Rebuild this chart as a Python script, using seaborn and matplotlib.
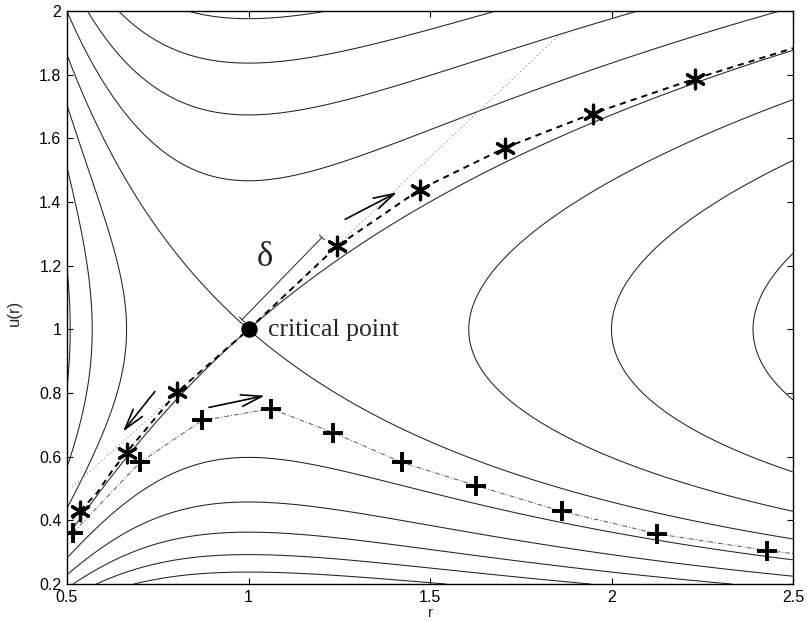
import numpy as np
import pandas as pd
import matplotlib
matplotlib.use('Agg')
from matplotlib import pyplot as plt
import seaborn as sns

# contour levels of the wind "energy" H(r,u) = u^2 - 2ln(u) - 4ln(r) - 4/r
# critical level is -3, neighbouring levels read off the figure
levels = [-4.544, -4.158, -3.772, -3.386, -3.0, -2.614, -2.228, -1.842, -1.456, -1.07, -0.684]

# numerical solutions
star_r = [0.536, 0.665, 0.803, 1.244, 1.472, 1.707, 1.949, 2.230]
star_u = [0.428, 0.613, 0.805, 1.261, 1.437, 1.569, 1.676, 1.786]

dash_r = [0.515, 0.536, 0.583, 0.627, 0.665, 0.803, 1.0, 1.244, 1.472, 1.707, 1.949, 2.230, 2.5]
dash_u = [0.405, 0.430, 0.487, 0.560, 0.615, 0.803, 1.0, 1.262, 1.440, 1.571, 1.679, 1.788, 1.884]

plus_r = [0.517, 0.701, 0.872, 1.062, 1.233, 1.423, 1.627, 1.864, 2.125, 2.428]
plus_u = [0.362, 0.582, 0.714, 0.751, 0.676, 0.582, 0.509, 0.428, 0.358, 0.305]
plusline_r = plus_r + [2.5]
plusline_u = plus_u + [0.296]

# tangent line through the critical point
tan_r = [0.515, 1.0, 1.855]
tan_u = [0.505, 1.0, 1.925]

crit_r = [1.0]
crit_u = [1.0]

# arrows: (tail r, tail u, head r, head u)
arrows = [(1.266, 1.346, 1.409, 1.431),
          (0.742, 0.805, 0.654, 0.679),
          (0.891, 0.755, 1.045, 0.792)]
delta_bar = (0.982, 1.031, 1.202, 1.289)

sns.set_style('ticks')
plt.rcParams['font.family'] = ['Liberation Sans', 'DejaVu Sans']

fig, ax = plt.subplots(figsize=(8.07, 6.22), dpi=100)
fig.subplots_adjust(left=0.083, right=0.983, bottom=0.061, top=0.982)

# background phase portrait
r = np.linspace(0.5, 2.5, 700)
u = np.linspace(0.2, 2.0, 700)
R, U = np.meshgrid(r, u)
H = U**2 - 2*np.log(U) - 4*np.log(R) - 4/R
ax.contour(R, U, H, levels=levels, colors='#222222', linewidths=0.75,
           linestyles='solid')

# solutions
sns.lineplot(x=tan_r, y=tan_u, ax=ax, color='#888888', linewidth=0.8,
             linestyle=(0, (1, 2.5)), sort=False, estimator=None)
sns.lineplot(x=dash_r, y=dash_u, ax=ax, color='k', linewidth=1.4,
             linestyle=(0, (3.2, 2.6)), sort=False, estimator=None)
sns.lineplot(x=plusline_r, y=plusline_u, ax=ax, color='#555555', linewidth=0.7,
             linestyle=(0, (5, 2, 1, 2)), sort=False, estimator=None)

sns.scatterplot(x=star_r, y=star_u, ax=ax, marker=(6, 2, 0), s=180,
                linewidth=2.3, color='k', edgecolor='k', zorder=5)
sns.scatterplot(x=plus_r, y=plus_u, ax=ax, marker='+', s=200,
                linewidth=2.8, color='k', zorder=5)
sns.scatterplot(x=crit_r, y=crit_u, ax=ax, marker='o', s=120,
                color='k', edgecolor='k', zorder=6)

for r0, u0, r1, u1 in arrows:
    ax.annotate('', xy=(r1, u1), xytext=(r0, u0),
                arrowprops=dict(arrowstyle='->,head_length=1.5,head_width=0.42',
                                mutation_scale=10, lw=1.2, color='k',
                                shrinkA=0, shrinkB=0))

ax.annotate('', xy=(delta_bar[2], delta_bar[3]), xytext=(delta_bar[0], delta_bar[1]),
            arrowprops=dict(arrowstyle='|-|,widthA=0.25,widthB=0.25',
                            mutation_scale=10, lw=0.7, color='#222222',
                            shrinkA=0, shrinkB=0))

ax.text(1.045, 1.226, 'δ', fontsize=25, ha='center', va='center',
        family=['Liberation Serif', 'DejaVu Serif'])
ax.text(1.054, 0.978, 'critical point', fontsize=18.5, ha='left', va='baseline',
        family=['Liberation Serif', 'DejaVu Serif'])

ax.set_xlim(0.5, 2.5)
ax.set_ylim(0.2, 2.0)
ax.set_xticks([0.5, 1, 1.5, 2, 2.5])
ax.set_xticklabels(['0.5', '1', '1.5', '2', '2.5'])
ax.set_yticks([0.2, 0.4, 0.6, 0.8, 1, 1.2, 1.4, 1.6, 1.8, 2])
ax.set_yticklabels(['0.2', '0.4', '0.6', '0.8', '1', '1.2', '1.4', '1.6', '1.8', '2'])
ax.tick_params(direction='in', length=4.5, width=0.8, top=True, right=True,
               labelsize=11.5, colors='k', pad=4)
for sp in ax.spines.values():
    sp.set_visible(True)
    sp.set_linewidth(1.0)
    sp.set_color('k')

ax.set_xlabel('r', fontsize=11, labelpad=1)
ax.set_ylabel('u(r)', fontsize=12)
ax.yaxis.set_label_coords(-0.062, 0.473)

fig.savefig('out.png', dpi=100)
